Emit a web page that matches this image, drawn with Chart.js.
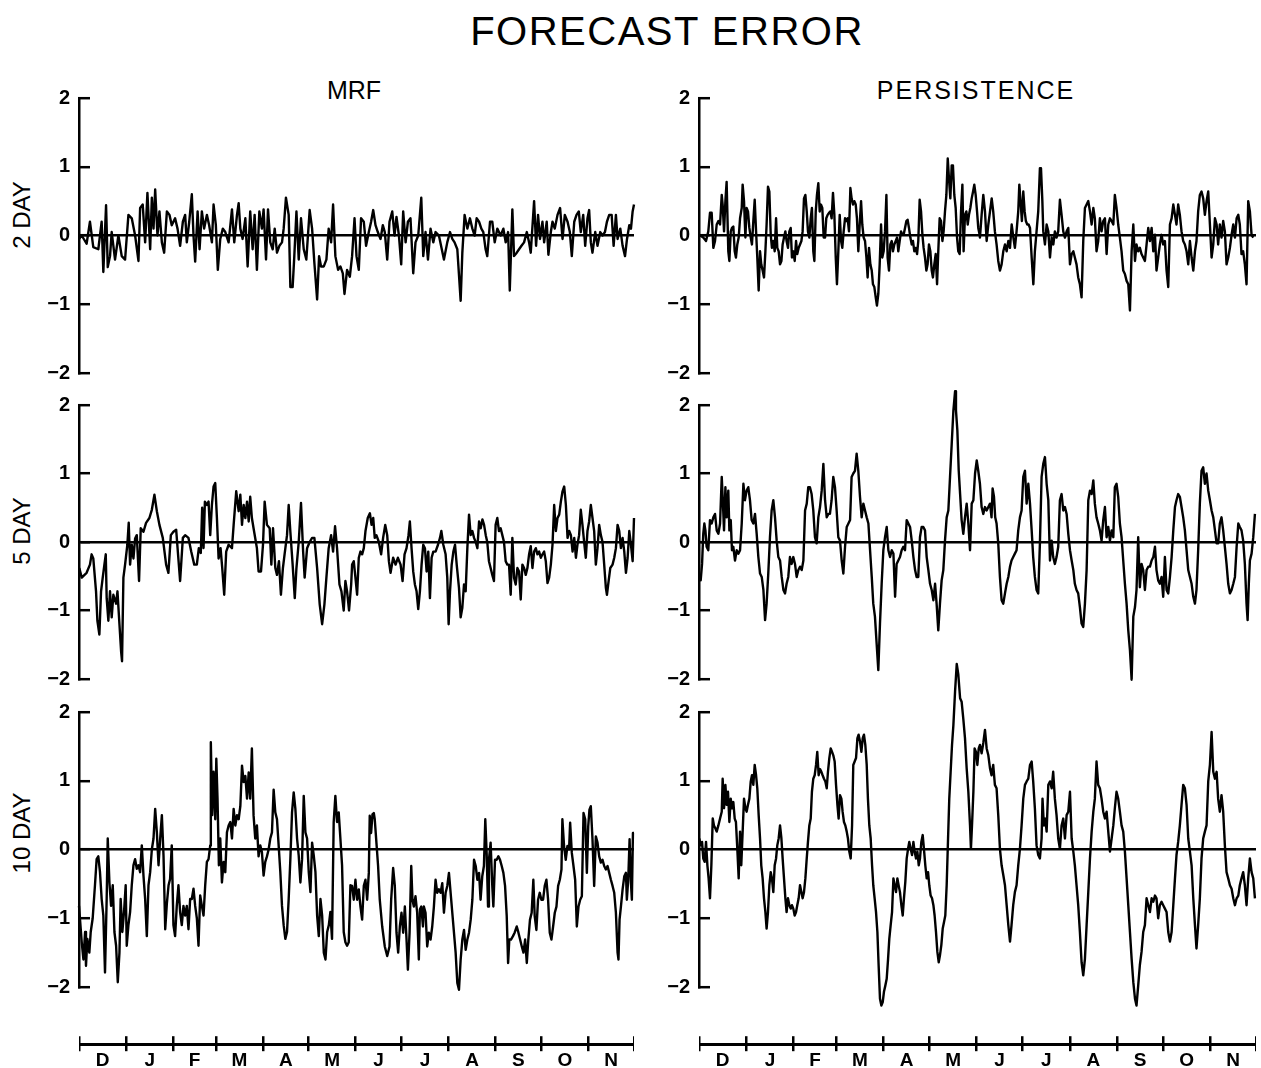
<!DOCTYPE html>
<html><head><meta charset="utf-8">
<script src="https://cdn.jsdelivr.net/npm/chart.js@4.4.1/dist/chart.umd.min.js"></script>
<style>
html,body{margin:0;padding:0;background:#fff;}
#stage{position:relative;width:1261px;height:1068px;overflow:hidden;background:#fff;font-family:'Liberation Sans',Arial,sans-serif;color:#000;}
.t{position:absolute;white-space:nowrap;line-height:1;}
canvas{position:absolute;}
</style></head><body><div id="stage">
<div class="t" style="left:667px;top:11px;font-size:40px;letter-spacing:1.5px;transform:translateX(-50%)">FORECAST ERROR</div>
<div class="t" style="left:354px;top:78px;font-size:25px;transform:translateX(-50%)">MRF</div>
<div class="t" style="left:976px;top:78px;font-size:25px;letter-spacing:2px;transform:translateX(-50%)">PERSISTENCE</div>
<div class="t" style="left:22px;top:215px;font-size:24px;transform:translate(-50%,-50%) rotate(-90deg)">2 DAY</div>
<div class="t" style="left:22px;top:531px;font-size:24px;transform:translate(-50%,-50%) rotate(-90deg)">5 DAY</div>
<div class="t" style="left:22px;top:833px;font-size:24px;transform:translate(-50%,-50%) rotate(-90deg)">10 DAY</div>
</div>
<script>
// ---------- data ----------
const MONTHS = ['D','J','F','M','A','M','J','J','A','S','O','N'];
const MONTH_DAYS = [31,31,28,31,30,31,30,31,31,30,31,30];
const Y_TICKS = [-2,-1,0,1,2];
const DAY_MAX = 365;

// [day since 1 Dec, error]
const MRF_2DAY = [[0,-0.05],[1.8,0],[5,-0.12],[7.2,0.2],[9.4,-0.17],[12.7,-0.2],[14.9,0.2],[16,-0.53],[17.8,0.44],[18.9,-0.46],[20.4,-0.3],[21.5,0.05],[23.7,-0.35],[25.9,0],[28.1,-0.3],[30.3,-0.35],[32.5,0.3],[34.7,0.25],[36.9,0],[39.1,-0.37],[40.2,0.4],[41.9,0.45],[43.5,-0.1],[45,0.62],[46.8,-0.2],[47.9,0.55],[49,0.1],[50.1,0.67],[51.6,0],[52.9,0.35],[54.5,-0.1],[56,-0.25],[57.8,0.35],[59.5,0.3],[61,0.15],[63.2,0.25],[64.8,0.1],[66.5,-0.15],[68.3,0.2],[69.8,0.3],[70.9,-0.1],[72.5,0.2],[74.2,0.6],[75.3,0],[76.4,-0.38],[78,0.35],[79.3,-0.2],[80.8,0.35],[82.3,0.1],[84.1,0.3],[85.6,0.15],[87.4,-0.1],[88.5,0.45],[90,0.15],[91.3,-0.5],[92.9,-0.05],[94.6,0.1],[96.2,0.05],[98.4,-0.1],[100.6,0.38],[102.1,-0.1],[103.9,0.3],[105,0.47],[106.1,0.1],[107.6,-0.05],[109.4,0.25],[110.9,-0.45],[112.6,0.35],[114.2,-0.2],[115.5,0.3],[117,-0.5],[118.6,0.35],[120.3,0.1],[121.4,0.38],[123,-0.35],[124.3,0.38],[125.8,-0.1],[127.4,-0.2],[128.7,0.1],[130.2,-0.25],[131.8,-0.15],[133.5,-0.1],[134.6,0.1],[136.1,0.55],[137.9,0.3],[139,-0.75],[140.5,-0.75],[141.6,-0.3],[143,0.35],[144.5,-0.35],[146,0.25],[147.8,-0.2],[149.5,-0.35],[151.7,0.37],[153.3,0.1],[154.8,-0.4],[156.6,-0.93],[157.9,-0.3],[159.2,-0.45],[161,-0.45],[162.7,-0.35],[164.2,0.1],[165.8,-0.1],[167.1,0.45],[168.6,-0.3],[170.4,-0.5],[171.9,-0.45],[173.5,-0.55],[174.6,-0.85],[176.3,-0.5],[178.1,-0.6],
[179.6,-0.3],[181.2,0.25],[182.5,-0.3],[184,-0.5],[185.5,0.25],[187.3,0.2],[188.8,-0.15],[190.6,0.05],[192.1,0.2],[193.5,0.37],[195,0.15],[196.5,0.05],[198.3,-0.05],[199.8,0.15],[201.1,0.05],[202.7,-0.35],[204.2,0.2],[206,0.35],[207.5,0],[208.8,0.27],[210.4,0],[211.9,-0.42],[213.2,0.35],[214.8,-0.1],[216.3,0.2],[218,0.25],[219.8,-0.55],[221.3,-0.1],[223.1,0],[225.1,0.55],[226.4,-0.3],[227.9,0.05],[229.5,-0.35],[231.2,0.1],[233,-0.1],[234.5,0.05],[236.7,0],[240,-0.35],[242.2,-0.1],[244,0.05],[245.5,-0.05],[247,-0.1],[248.8,-0.2],[251,-0.95],[252.1,-0.25],[253.6,0.3],[255.4,0.1],[257.1,0.25],[258.7,0.1],[260.2,0],[261.5,0.25],[263.1,0.2],[264.6,0.1],[265.9,0.05],[267.4,-0.2],[268.5,-0.3],[270.3,0.2],[271.8,0.2],[273.4,-0.1],[275.1,0.1],[277.3,0],[279.1,0.1],[280.6,-0.1],[282.2,0.05],[283.3,-0.8],[285,0.38],[286.1,-0.3],[287.9,-0.25],[289.4,-0.2],[291,-0.15],[292.7,-0.1],[294.5,0.05],[296,-0.1],[297.1,-0.25],[299.3,0.5],[300.6,-0.15],[301.9,0.3],[303.2,-0.05],[304.8,0.2],[305.9,-0.1],[307.6,0.2],[308.7,-0.28],[310.3,0.05],[311.4,0.2],[312.9,0.1],[314.7,0.3],[316.4,0.4],[318,-0.05],[319.5,0.3],[321.3,0.2],[322.8,0.05],[324.1,-0.3],[325.7,0.2],[327.2,0.3],[328.7,0.35],[330,0.05],[331.6,0.3],[332.9,-0.15],[334.4,0.25],[335.5,0.37],[336.6,-0.1],[337.7,-0.25],[339.5,0.05],[341,-0.15],[342.8,0.05],[344.3,0],[345.9,0.05],[347.2,0.2],[348.7,0.3],[350.3,0.3],[351.6,-0.15],[353.1,0.3],[354.2,-0.05],[356,0.1],[357.5,-0.15],[359.1,-0.3],[360.4,-0.05],[361.9,0.15],[363,0.1],[364.1,0.35],[365,0.45]];

const MRF_5DAY = [[0.2,-0.38],[1.8,-0.52],[5,-0.45],[7.2,-0.33],[8.3,-0.18],[9.4,-0.24],[11.2,-0.72],[12.1,-1.15],[13.4,-1.35],[14.5,-0.72],[15.6,-0.52],[16.7,-0.33],[17.6,-0.18],[18.2,-0.82],[19.3,-1.15],[20.4,-0.72],[21.5,-1.1],[22.6,-0.77],[24.4,-0.9],[25.3,-0.72],[26.6,-1.2],[27.7,-1.6],[28.3,-1.74],[29.2,-0.52],[30.3,-0.33],[31.8,-0.04],[32.7,0.28],[33.6,-0.33],[34.7,-0.04],[35.8,-0.24],[36.9,0.05],[38,0.1],[39.5,-0.57],[40.6,0.2],[42.4,0.15],[44.1,0.28],[46.3,0.35],[47.9,0.47],[49.6,0.69],[51.2,0.45],[52.9,0.25],[55.1,0.06],[57.3,-0.33],[58.8,-0.45],[60.4,0.1],[62.1,0.15],[63.9,0.18],[65,-0.14],[66.5,-0.57],[68.3,0.06],[69.8,0.1],[72,0.06],[73.8,-0.14],[75.8,-0.33],[77.5,-0.33],[78.8,-0.09],[80.1,-0.16],[81,0.5],[81.9,-0.09],[82.8,0.59],[84.1,0.54],[85.2,0.59],[86.3,0.1],[87.4,0.54],[88.5,0.81],[89.6,0.86],[90.7,0.35],[91.8,-0.24],[93.1,-0.09],[94.2,-0.38],[95.5,-0.77],[96.8,-0.14],[98.4,-0.04],[100.6,-0.09],[101.7,0.25],[103.4,0.74],[105,0.45],[106.1,0.69],[107.2,0.25],[108.3,0.54],[109.4,0.35],[110.5,0.59],[111.6,0.3],[112.6,0.66],[113.7,0.35],[114.8,0.2],[117,-0.09],[118.1,-0.43],[119.7,-0.43],[121,-0.04],[122.1,0.59],[123.6,0.25],[125.4,0.2],[126.5,-0.33],[127.6,0.2],[129.1,-0.38],[130.2,-0.48],[131.5,-0.28],[132.8,-0.77],[134.1,-0.38],[135.2,-0.18],[136.8,0.1],[137.9,0.54],[139,0.15],[140.5,-0.33],[141.9,-0.82],[143,-0.38],[144.5,0],[146,0.57],[147.4,-0.14],[148.4,-0.52],[150,-0.09],[151.7,0],[153.3,0.06],[154.8,0.06],[156.6,-0.38],[158.3,-0.91],[159.9,-1.2],[161.4,-0.91],[162.7,-0.52],[164.2,-0.09],[165.8,0.1],[167.1,-0.14],[168.4,0.23],[169.7,-0.09],[171.3,-0.62],[172.6,-0.72],[174.1,-1.0],[175.2,-0.57],[176.3,-0.72],[177.6,-1.0],[179,-0.62],
[179.6,-0.33],[180.7,-0.28],[181.8,-0.52],[182.9,-0.77],[184,-0.23],[185.1,-0.14],[186.2,-0.18],[187.3,-0.09],[188.4,0.16],[189.9,0.35],[191.3,0.42],[192.4,0.25],[193.5,0.35],[194.5,0.06],[195.6,0.1],[197.2,0],[198.7,-0.18],[200,0.06],[201.4,0.25],[202.7,0.1],[203.8,-0.28],[204.9,-0.45],[206.6,-0.23],[208.2,-0.33],[209.7,-0.23],[211.5,-0.33],[212.8,-0.57],[214.1,-0.18],[215.4,-0.09],[216.7,0.1],[217.6,0.3],[218.7,-0.09],[219.8,-0.43],[220.9,-0.62],[222,-0.72],[223.1,-0.98],[224.2,-0.72],[225.3,-0.33],[226.4,-0.04],[227.5,-0.09],[228.6,-0.43],[229.7,-0.14],[230.8,-0.82],[231.9,-0.23],[233,-0.14],[234.5,-0.14],[236.1,-0.04],[237.4,0.06],[238.3,0.16],[239.6,-0.04],[241.1,-0.18],[242.2,-0.52],[243.1,-1.2],[244,-0.72],[245.1,-0.33],[246.2,-0.14],[247.3,-0.04],[248.4,-0.33],[249.9,-0.67],[251,-1.1],[252.1,-0.96],[253.2,-0.62],[254.3,-0.72],[255.4,-0.09],[256.5,0.4],[257.6,0.1],[258.7,0.16],[259.8,0.06],[260.9,0],[262,-0.09],[263.1,0.3],[264.2,0.2],[265.3,0.33],[266.4,0.25],[267.5,0.1],[268.5,0],[269.6,-0.28],[270.7,-0.38],[271.8,-0.48],[272.9,-0.57],[274,0.25],[275.1,0.35],[276.2,0.16],[277.3,0.2],[278.4,0.1],[279.5,0],[280.6,-0.28],[281.7,-0.33],[282.8,-0.33],[283.9,-0.77],[285,0.06],[286.1,-0.52],[287.2,-0.62],[288.3,-0.38],[289.4,-0.43],[290.5,-0.84],[291.6,-0.33],[292.7,-0.38],[293.8,-0.48],[294.9,-0.38],[296,-0.18],[297.1,-0.06],[298.2,-0.38],[299.3,-0.14],[300.4,-0.09],[301.5,-0.18],[302.6,-0.14],[303.7,-0.23],[304.8,-0.18],[305.9,-0.14],[307,-0.28],[308.1,-0.6],[309.2,-0.52],[310.3,-0.33],[311.4,-0.04],[312.5,0.54],[313.6,0.16],[314.7,0.35],[315.8,0.4],[316.9,0.59],[318,0.74],[319.1,0.81],[320.2,0.54],[321.3,0.06],[322.4,0.16],[323.5,0.1],[324.6,-0.14],[325.7,0.06],[326.8,-0.23],[327.8,-0.04],[328.9,0.1],[330,0.47],[331.1,0.25],[332.2,0],[333.3,-0.23],[334.4,0.16],[335.5,0.3],[336.6,0.54],[337.7,0.35],[338.8,0.16],[339.9,-0.33],[341,-0.09],[342.1,0.25],[343.2,0.1],[344.3,0],[345.4,-0.33],[346.5,-0.67],[347.2,-0.77],[348.3,-0.57],[349.4,-0.38],[350.9,-0.33],[352,-0.23],[353.1,-0.09],[354.2,0.25],[355.3,0.16],[356.4,-0.09],[357.5,0.06],[358.6,-0.14],[359.7,-0.45],[360.8,-0.23],[361.9,0.16],[363,-0.04],[364.1,-0.28],[365,0.35]];

const MRF_10DAY = [[0,-0.82],[1.8,-1.35],[2.9,-1.6],[4,-1.2],[4.6,-1.69],[5.5,-1.3],[6.8,-1.5],[7.7,-1.2],[9,-1.0],[10.5,-0.52],[11.6,-0.14],[12.7,-0.1],[13.8,-0.33],[14.9,-0.72],[16,-0.96],[17.1,-1.79],[18.2,-0.72],[18.9,0.16],[20,-0.48],[21.1,-0.82],[22.2,-0.52],[23.3,-1.2],[24.4,-1.4],[25.5,-1.93],[26.6,-1.5],[27.4,-0.72],[28.5,-1.2],[29.6,-0.91],[30.7,-0.52],[31.4,-1.4],[32.5,-1.1],[33.6,-0.91],[34.7,-0.52],[35.8,-0.23],[36.9,-0.14],[38,-0.28],[39.1,-0.23],[40.2,-0.33],[41.3,0.06],[42.4,-0.38],[43.5,-0.72],[44.6,-1.26],[45.7,-0.52],[46.8,-0.33],[47.9,0],[49,0.16],[50.1,0.59],[51.2,0.25],[52.3,-0.23],[53.4,0.16],[54.5,0.5],[55.6,-0.1],[56.7,-1.16],[57.8,-0.78],[58.9,-0.52],[59.9,-0.43],[61,0.06],[62.1,-1.1],[63.2,-1.26],[64.3,-0.82],[65.4,-0.52],[66.5,-0.91],[67.6,-1.1],[68.7,-0.82],[69.8,-0.96],[70.9,-0.82],[72,-1.16],[73.1,-0.72],[74.2,-0.72],[75.3,-0.57],[76.4,-0.82],[77.5,-1.0],[78.6,-1.4],[79.7,-0.67],[80.8,-0.82],[81.9,-0.96],[83,-0.52],[84.1,-0.18],[85.2,-0.14],[86.3,0.06],[86.7,1.56],[87.6,0.5],[88.5,1.13],[89.6,0.44],[90.3,1.32],[91.1,0.74],[92,-0.23],[92.9,0.16],[94,-0.48],[95.1,-0.18],[96.2,-0.33],[97.3,0.25],[98.4,0.35],[99.5,0.4],[100.6,0.16],[101.7,0.59],[102.8,0.35],[103.9,0.5],[105,0.44],[106.1,0.63],[107.2,1.22],[108.3,0.98],[109.4,1.07],[110.5,0.74],[111.6,1.12],[112.6,0.74],[113.7,1.47],[114.8,0.5],[115.9,0.16],[117,0.35],[118.1,-0.1],[119.2,0.06],[120.3,-0.04],[121.4,-0.38],[122.5,-0.18],[123.6,-0.1],[124.7,0],[125.8,0.16],[126.9,0.25],[128,0.87],[129.1,0.54],[130.2,0.44],[131.3,0.06],[132.4,-0.33],[133.5,-0.82],[134.6,-1.1],[135.7,-1.3],[136.8,-1.2],[137.9,-0.72],[139,-0.14],[140.1,0.54],[141.2,0.83],[142.3,0.59],[143.4,0.16],[144.5,-0.09],[145.6,-0.48],[146.7,-0.14],[147.8,0.78],[148.9,0.25],[150,0.16],[151.1,-0.33],[152.2,-0.62],[153.3,0.1],[154.4,-0.09],[155.5,-0.33],[156.6,-0.96],[157.7,-1.26],[158.8,-0.72],[159.9,-0.96],[161,-1.5],[162.1,-1.6],[163.2,-1.2],[164.3,-1.1],[165.3,-0.91],[166.4,-1.3],[167.5,0.4],[168.6,0.78],[169.7,0.4],[170.8,0.54],[171.9,0.16],[173,-0.23],[174.1,-1.2],[175.2,-1.35],[176.3,-1.4],[177.4,-1.35],[178.5,-0.52],
[179.6,-0.53],[180.7,-0.73],[181.8,-0.44],[182.9,-0.73],[184,-0.58],[185.1,-0.83],[186.2,-1.02],[187.3,-0.53],[188.4,-0.44],[189.5,-0.73],[190.6,-0.34],[191.2,0.49],[192.1,0.24],[193,0.51],[193.9,0.53],[194.5,0.44],[195.6,0.1],[196.7,-0.24],[197.8,-0.73],[199.4,-1.12],[201.1,-1.41],[202.7,-1.55],[204.2,-1.41],[205.3,-0.73],[206.6,-0.27],[207.7,-0.53],[208.8,-1.21],[209.9,-1.5],[211,-1.12],[212.1,-0.92],[213.2,-1.21],[214.3,-0.83],[215.4,-1.31],[216.3,-1.75],[217.4,-1.21],[218.5,-0.24],[219.3,-0.73],[220.2,-0.83],[221.3,-0.68],[222.4,-0.92],[223.5,-1.6],[224.2,-0.87],[225.1,-0.83],[226.2,-1.12],[226.8,-0.83],[227.9,-0.92],[229,-1.41],[230.1,-1.21],[231.2,-1.31],[232.3,-1.12],[233.4,-0.83],[234.5,-0.44],[235.6,-0.63],[236.7,-0.58],[237.8,-0.63],[238.9,-0.49],[240,-0.92],[241.1,-0.63],[242.2,-0.53],[243.3,-0.34],[244.4,-0.63],[245.5,-0.92],[246.6,-1.21],[247.7,-1.5],[248.8,-1.94],[249.9,-2.04],[251,-1.6],[252.1,-1.31],[253.2,-1.17],[254.3,-1.46],[255.4,-1.31],[256.5,-1.21],[257.6,-1.02],[258.7,-0.73],[259.8,-0.15],[260.9,-0.24],[262,-0.44],[263.1,-0.34],[264.1,-0.73],[265.2,-0.39],[266.3,-0.24],[267.2,0.44],[268.1,-0.05],[269,-0.83],[269.6,-0.15],[270.7,0.1],[271.8,-0.53],[272.5,-0.83],[273.6,-0.15],[274.7,-0.15],[275.8,-0.1],[276.9,-0.15],[278,-0.24],[279.1,-0.34],[280.2,-0.53],[281.3,-0.97],[282.2,-1.65],[283,-1.31],[284.1,-1.31],[285.4,-1.26],[286.5,-1.21],[287.9,-1.12],[289,-1.21],[290.1,-1.31],[291.2,-1.41],[292.3,-1.5],[293.4,-1.31],[294.5,-1.65],[295.5,-1.31],[296.6,-1.02],[297.7,-0.92],[298.8,-0.44],[299.7,-0.97],[300.8,-1.17],[301.9,-0.73],[303,-0.63],[304.1,-0.73],[305.2,-0.73],[306.3,-0.53],[307.4,-0.44],[308.5,-0.73],[309.6,-1.21],[310.7,-1.31],[311.8,-1.12],[312.9,-0.92],[314,-0.83],[315.1,-0.53],[316.2,-0.44],[317.3,-0.29],[317.9,0.44],[319,0.05],[320.1,-0.15],[321.2,0.05],[322.3,0],[323,0.39],[324.1,-0.05],[325.2,-0.24],[326.3,-0.44],[327.4,-1.12],[328.5,-0.83],[329.6,-0.73],[330.7,-0.68],[331.8,0.53],[332.9,0.44],[334,-0.34],[334.9,0.34],[335.7,0.58],[336.6,0.63],[337.7,0.15],[338.8,-0.53],[339.9,0.19],[341,0.1],[342.1,-0.1],[343.2,-0.19],[344.3,-0.15],[345.4,-0.24],[346.5,-0.29],[347.6,-0.24],[348.7,-0.34],[349.8,-0.44],[350.9,-0.53],[352,-0.63],[353.1,-0.92],[354.2,-1.5],[354.8,-1.6],[355.5,-1.02],[356.4,-0.83],[357.5,-0.58],[358.6,-0.39],[359.7,-0.34],[360.3,-0.73],[361.2,-0.44],[362.1,0.15],[363,-0.49],[363.6,-0.73],[364.3,0.24],[365,0.24]];

const PERS_2DAY = [[0.7,0],[2.8,-0.03],[4.6,-0.08],[6.1,0.06],[7.2,0.33],[8.3,0.33],[9.4,-0.18],[10.5,-0.08],[11.6,0.16],[12.7,0.21],[13.8,0.16],[14.9,0.59],[15.5,0.45],[16.4,0.06],[17.3,0.5],[18.1,0.78],[19.2,-0.23],[19.9,-0.37],[20.8,0.06],[21.6,0.11],[22.5,0.13],[23.4,-0.23],[24.2,-0.32],[25.1,-0.13],[26,-0.03],[26.9,0.25],[28,0.4],[28.6,0.74],[29.5,0.5],[30.4,-0.03],[31.2,0.4],[32.1,0.35],[33,0.11],[33.9,-0.03],[34.7,-0.13],[35.6,0.21],[36.5,0.52],[37.4,0.06],[38.2,-0.32],[39.1,-0.8],[40,-0.23],[40.8,-0.42],[41.7,-0.51],[42.6,-0.61],[43.5,-0.23],[44.3,0.16],[45.2,0.71],[46.1,0.64],[47,0.01],[47.8,-0.18],[48.7,-0.08],[49.6,-0.23],[50.5,0.25],[51.3,-0.18],[52.2,-0.23],[53.1,-0.42],[54,-0.37],[54.8,-0.13],[55.7,-0.03],[56.6,0.06],[57.4,-0.08],[58.3,-0.18],[59.2,0.06],[60.1,0.11],[60.9,-0.32],[61.8,-0.23],[62.7,-0.37],[63.6,-0.08],[64.4,-0.27],[65.3,-0.18],[66.2,-0.13],[67.1,-0.08],[67.9,0.06],[68.8,0.54],[69.7,0.59],[70.6,0.35],[71.4,0.06],[72.3,-0.03],[73.2,0.25],[74,0.4],[74.9,-0.23],[75.6,-0.37],[76.5,0.35],[77.3,0.59],[78.2,0.76],[79.1,0.35],[79.9,0.45],[80.8,0.4],[81.7,-0.03],[82.6,-0.03],[83.4,0.25],[84.3,0.3],[85.2,0.33],[86.1,0.35],[86.9,0.25],[87.8,0.62],[88.7,0.3],[89.6,-0.32],[90.4,-0.71],[91.3,-0.23],[92.2,0.3],[93.1,-0.08],[93.9,-0.18],[94.8,0.06],[95.7,0.25],[96.5,0.21],[97.4,0.25],[98.3,0.06],[99.2,0.69],[100,0.54],[100.9,0.45],[101.8,0.5],[102.7,0.45],[103.5,0.25],[104.4,-0.23],[105.3,0.16],[106.2,0.5],[107,0.16],[107.9,-0.03],[108.8,-0.08],[109.7,-0.32],[110.5,-0.61],[111.4,-0.18],[112.3,-0.42],[113.2,-0.51],[114,-0.71],[114.9,-0.75],[115.8,-0.9],[116.6,-1.02],[117.5,-0.85],[118.4,-0.42],[119.3,0.16],[120.1,-0.32],[121,-0.23],[121.9,0.06],[122.8,0.59],[123.6,-0.32],[124.5,-0.51],[125.4,-0.13],[126.3,-0.08],[127.1,-0.23],[128,-0.13],[128.9,-0.08],[129.8,-0.03],[130.6,-0.23],[131.5,-0.08],[132.4,0.06],[133.2,0.01],[134.1,0.01],[135,0.11],[135.9,0.21],[136.7,0.23],[137.6,0.11],[138.5,-0.03],[139.4,-0.13],[140.2,-0.08],[141.1,-0.23],[142,-0.18],[142.9,-0.27],[143.7,-0.08],[144.6,0.52],[145.5,0.35],[146.4,0.01],[147.2,-0.18],[148.1,-0.32],[149,-0.51],[149.8,-0.42],[150.7,-0.13],[151.6,-0.23],[152.5,-0.51],[153.3,-0.61],[154.2,-0.42],[155.1,-0.27],[156,-0.71],[156.8,-0.23],[157.7,0.25],[158.6,0.21],[159.5,-0.08],[160.3,0.06],[161.2,0.35],[162.1,0.59],[163,1.12],[163.8,0.83],[164.7,0.54],[165.6,1.02],[166.4,1.02],[167.3,0.59],[168.2,0.4],[169.1,-0.03],[169.9,-0.23],[170.8,-0.27],[171.7,0.35],[172.6,0.74],[173.4,-0.23],[174.3,0.3],[175.2,0.35],[176.1,0.16],[176.9,0.3],[177.8,0.4],[178.7,0.54],[179.6,0.64],[180.4,0.74],[181.3,0.59],[182.2,0.35],[183,0.11],[183.9,0.01],
[184.1,-0.03],[185.2,0.3],[186.3,0.59],[187.4,0.35],[188.5,-0.08],[189.6,0.16],[190.7,0.35],[191.8,0.54],[192.8,0.35],[193.9,0.06],[195,-0.13],[196.1,-0.37],[197.2,-0.51],[198.3,-0.42],[199.4,-0.23],[200.5,-0.13],[201.6,-0.23],[202.7,-0.08],[203.8,-0.18],[204.9,0.16],[206,-0.03],[207,-0.18],[208.1,0.06],[209.2,0.35],[209.9,0.74],[210.7,0.5],[211.6,0.21],[212.5,0.64],[213.4,0.35],[214.2,0.21],[215.1,0.16],[216,0.16],[216.9,0.11],[218,-0.32],[219.1,-0.71],[220.1,-0.23],[221.2,0.06],[222.3,0.35],[223.4,0.98],[224.1,0.98],[225,0.5],[225.6,0.06],[226.7,-0.13],[227.8,0.16],[228.9,0.06],[230,-0.32],[231.1,-0.03],[232.2,-0.13],[233.2,0.06],[234.3,-0.03],[235.4,0.06],[236.5,0.52],[237.6,0.3],[238.7,0.06],[239.8,-0.03],[240.9,0.06],[242,0.11],[243.1,-0.42],[244.2,-0.27],[245.3,-0.23],[246.3,-0.32],[247.4,-0.42],[248.5,-0.61],[249.6,-0.71],[250.7,-0.9],[251.8,-0.08],[252.9,0.4],[254,0.45],[255.1,0.5],[256.2,0.35],[257.3,0.16],[258.4,0.4],[259.4,0.25],[260.5,-0.23],[261.6,-0.08],[262.7,0.25],[263.8,0.06],[264.9,0.21],[266,0.25],[267.1,-0.27],[268.2,0.16],[269.3,0.25],[270.4,0.21],[271.5,0.16],[272.5,0.59],[273.6,0.4],[274.7,0.16],[275.8,-0.03],[276.9,-0.23],[278,-0.51],[279.1,-0.56],[280.2,-0.66],[281.3,-0.71],[282.4,-1.09],[283.5,-0.23],[284.6,0.16],[285.7,-0.37],[286.7,-0.13],[287.8,-0.23],[288.9,-0.18],[290,-0.27],[291.1,-0.32],[292.2,-0.37],[293.3,-0.13],[294.4,0.11],[295.5,-0.08],[296.6,0.11],[297.7,-0.23],[298.8,0.01],[299.8,-0.51],[300.9,-0.32],[302,-0.13],[303.1,0.01],[304.2,-0.13],[305.3,-0.08],[306.4,-0.51],[307.5,-0.75],[308.6,0.16],[309.7,0.25],[310.8,0.45],[311.9,0.3],[312.9,0.16],[314,0.45],[315.1,0.3],[316.2,0.06],[317.3,-0.08],[318.4,-0.13],[319.5,-0.23],[320.6,-0.42],[321.7,-0.08],[322.8,-0.32],[323.9,-0.51],[325,-0.23],[326,-0.08],[327.1,0.35],[328.2,0.59],[329.3,0.64],[330.4,0.54],[331.5,0.3],[332.6,0.5],[333.7,0.64],[334.8,0.16],[335.9,-0.32],[337,-0.13],[338.1,0.25],[339.2,0.16],[340.2,-0.13],[341.3,0.16],[342.4,-0.03],[343.5,0.21],[344.6,0.06],[345.7,-0.42],[346.8,-0.32],[347.9,-0.18],[349,0.01],[350.1,0.16],[351.2,-0.03],[352.3,0.25],[353.4,0.3],[354.4,0.16],[355.5,-0.27],[356.6,-0.23],[357.7,-0.42],[358.8,-0.71],[359.9,0.5],[361,0.35],[362.1,0.01],[363.2,-0.03]];

const PERS_5DAY = [[0.2,-0.51],[1.1,-0.56],[2,-0.32],[2.8,0.12],[3.5,0.27],[4.2,0.17],[5,-0.07],[6.1,-0.12],[7.2,0.32],[8.3,0.27],[9.4,0.36],[10.5,0.41],[11.6,0.17],[12.7,0.12],[13.8,0.27],[14.9,0.95],[15.5,0.66],[16.4,0.17],[17.3,0.8],[18.1,0.36],[19.2,0.75],[19.9,0.17],[20.8,0.32],[21.6,-0.12],[22.5,-0.07],[23.6,-0.27],[24.7,-0.12],[25.8,-0.17],[26.9,-0.12],[28,0.27],[29.1,0.85],[30.1,0.61],[31.2,0.75],[32.3,0.8],[33.4,0.61],[34.5,0.32],[35.6,0.27],[36.7,0.41],[37.8,0.12],[38.9,-0.22],[40,-0.46],[41.1,-0.51],[42.2,-0.7],[43.3,-1.14],[44.3,-0.9],[45.4,-0.46],[46.5,0.07],[47.6,0.46],[48.7,0.61],[49.8,0.36],[50.9,0.02],[52,-0.22],[53.1,-0.27],[54.2,-0.51],[55.3,-0.7],[56.4,-0.75],[57.4,-0.61],[58.5,-0.51],[59.6,-0.22],[60.7,-0.32],[61.8,-0.22],[62.9,-0.32],[64,-0.51],[65.1,-0.41],[66.2,-0.36],[67.3,-0.41],[68.4,-0.27],[69.5,0.46],[70.6,0.56],[71.6,0.8],[72.7,0.8],[73.8,0.7],[74.9,0.46],[76,0.07],[77.1,-0.02],[78.2,0.36],[79.3,0.51],[80.4,0.75],[81.5,1.14],[82.6,0.61],[83.7,0.36],[84.8,0.41],[85.8,0.41],[86.9,0.61],[88,0.95],[89.1,0.8],[90.2,0.46],[91.3,0.07],[92.4,0.02],[93.5,-0.27],[94.6,-0.46],[95.7,-0.07],[96.8,0.22],[97.9,0.27],[99,0.32],[100,0.95],[101.1,1.0],[102.2,1.04],[103.3,1.29],[104.4,1.04],[105.5,0.66],[106.6,0.36],[107.7,0.56],[108.8,0.46],[109.9,0.36],[111,0.27],[112.1,-0.12],[113.2,-0.51],[114.2,-0.9],[115.3,-1.09],[116.4,-1.48],[117.5,-1.87],[118.6,-1.19],[119.7,-0.61],[120.8,-0.12],[121.9,0.07],[123,0.22],[124.1,-0.12],[125.2,-0.22],[126.3,-0.12],[127.4,-0.17],[128.5,-0.8],[129.5,-0.32],[130.6,-0.27],[131.7,-0.22],[132.8,-0.12],[133.9,-0.07],[135,-0.12],[136.1,0.32],[137.2,0.27],[138.3,0.22],[139.4,0.02],[140.5,-0.22],[141.6,-0.41],[142.6,-0.51],[143.7,-0.51],[144.8,0.07],[145.9,0.22],[147,0.22],[148.1,0.17],[149.2,-0.22],[150.3,-0.41],[151.4,-0.61],[152.5,-0.7],[153.6,-0.85],[154.7,-0.61],[155.7,-0.9],[156.8,-1.29],[157.9,-0.9],[159,-0.56],[160.1,-0.41],[161.2,0.02],[162.3,0.36],[163.4,0.46],[164.5,0.95],[165.6,1.43],[166.7,1.92],[167.8,2.2],[168.4,1.92],[169.3,1.63],[170.2,1.04],[171.1,0.7],[172.1,0.32],[173.2,0.12],[174.3,0.36],[175.4,0.56],[176.5,0.27],[177.6,-0.12],[178.7,0.56],[179.8,0.61],[180.9,1.0],[182,1.19],[183,1.04],
[184.1,0.85],[185.2,0.51],[186.3,0.41],[187.4,0.51],[188.5,0.46],[189.6,0.51],[190.7,0.56],[191.7,0.36],[192.4,0.78],[193.3,0.66],[194.1,0.36],[195,0.27],[196.1,-0.02],[197.2,-0.51],[198.3,-0.85],[199.4,-0.9],[200.5,-0.75],[201.6,-0.61],[202.7,-0.51],[203.8,-0.36],[204.8,-0.27],[205.9,-0.22],[207,-0.17],[208.1,-0.12],[209.2,0.17],[210.3,0.36],[211.4,0.46],[212.5,0.95],[213.6,1.04],[214.7,0.56],[215.8,0.85],[216.9,0.56],[218,0.17],[219,-0.22],[220.1,-0.51],[221.2,-0.7],[222.3,-0.75],[223.4,-0.02],[224.5,0.95],[225.6,1.14],[226.7,1.24],[227.8,0.85],[228.9,0.61],[230,-0.27],[231.1,0.02],[232.1,-0.22],[233.2,-0.32],[234.3,-0.22],[235.4,-0.07],[236.5,0.61],[237.6,0.7],[238.7,0.46],[239.8,0.51],[240.9,0.41],[242,0.12],[243.1,-0.12],[244.2,-0.27],[245.3,-0.41],[246.3,-0.61],[247.4,-0.7],[248.5,-0.75],[249.6,-0.95],[250.7,-1.19],[251.8,-1.24],[252.9,-0.9],[254,-0.41],[255.1,0.61],[256.2,0.75],[257.3,0.7],[258.4,0.9],[259.4,0.56],[260.5,0.36],[261.6,0.27],[262.7,0.17],[263.8,0.02],[264.9,0.32],[266,0.51],[267.1,0.07],[268.2,0.22],[269.3,0.02],[270.4,0.17],[271.5,0.07],[272.5,0.8],[273.6,0.85],[274.7,0.66],[275.8,0.27],[276.9,0.07],[278,-0.27],[279.1,-0.61],[280.2,-0.9],[281.3,-1.29],[282.4,-1.58],[283.5,-2.01],[284.6,-1.09],[285.7,-0.95],[286.7,-0.7],[287.8,0.07],[288.9,-0.66],[290,-0.32],[291.1,-0.41],[292.2,-0.7],[293.3,-0.41],[294.4,-0.36],[295.5,-0.36],[296.6,-0.27],[297.7,-0.22],[298.8,-0.07],[299.8,-0.41],[300.9,-0.56],[302,-0.61],[303.1,-0.51],[304.2,-0.8],[305.3,-0.22],[306.4,-0.7],[307.5,-0.75],[308.6,-0.51],[309.7,-0.22],[310.8,0.17],[311.9,0.51],[312.9,0.61],[314,0.7],[315.1,0.66],[316.2,0.51],[317.3,0.36],[318.4,0.17],[319.5,-0.12],[320.6,-0.41],[321.7,-0.51],[322.8,-0.61],[323.9,-0.8],[325,-0.9],[326,-0.7],[327.1,-0.12],[328.2,0.56],[329.3,1.04],[330.4,1.09],[331.5,0.85],[332.6,1.0],[333.7,0.75],[334.8,0.61],[335.9,0.46],[337,0.36],[338.1,0.17],[339.2,-0.02],[340.2,-0.02],[341.3,0.27],[342.4,0.36],[343.5,0.17],[344.6,-0.07],[345.7,-0.32],[346.8,-0.61],[347.9,-0.75],[349,-0.7],[350.1,-0.61],[351.2,-0.51],[352.3,-0.07],[353.4,0.27],[354.4,0.22],[355.5,0.17],[356.6,0.02],[357.7,-0.32],[358.8,-0.9],[359.5,-1.14],[360.3,-0.61],[361,-0.27],[362.1,-0.17],[363.2,0.07],[364.3,0.41]];

const PERS_10DAY = [[0.2,0.16],[1.1,0.06],[2,0.11],[2.8,-0.13],[3.7,-0.18],[4.6,0.11],[5.5,-0.23],[6.3,-0.42],[7.2,-0.71],[8.1,-0.23],[9,0.45],[9.8,0.35],[10.7,0.31],[11.6,0.26],[12.7,0.35],[13.8,0.45],[14.9,0.55],[15.5,1.03],[16.4,0.6],[17.3,0.94],[18.1,0.65],[19,0.84],[19.9,0.4],[20.8,0.74],[21.6,0.6],[22.5,0.69],[23.4,0.45],[24.2,0.4],[25.1,0.01],[26,-0.42],[26.9,0.26],[27.7,-0.23],[28.6,0.26],[29.5,0.74],[30.4,0.6],[31.2,0.55],[32.1,0.65],[33,0.74],[33.9,0.99],[34.7,1.08],[35.6,0.94],[36.5,1.23],[37.4,1.08],[38.2,0.89],[39.1,0.5],[40,0.16],[40.8,-0.23],[41.7,-0.42],[42.6,-0.71],[43.5,-0.91],[44.3,-1.15],[45.2,-0.91],[46.1,-0.52],[47,-0.33],[47.8,-0.42],[48.7,-0.62],[49.6,-0.23],[50.5,-0.13],[51.3,0.06],[52.2,0.16],[53.1,0.35],[54,0.16],[54.8,-0.13],[55.7,-0.42],[56.6,-0.71],[57.4,-0.91],[58.3,-0.71],[59.2,-0.81],[60.1,-0.86],[60.9,-0.81],[61.8,-0.86],[62.7,-0.96],[63.6,-0.91],[64.4,-0.81],[65.3,-0.71],[66.2,-0.52],[67.1,-0.62],[67.9,-0.71],[68.8,-0.62],[69.7,-0.42],[70.6,-0.13],[71.4,0.11],[72.3,0.35],[73.2,0.45],[74,0.84],[74.9,1.03],[75.8,1.08],[76.7,1.23],[77.5,1.42],[78.4,1.08],[79.3,1.17],[80.2,1.13],[81,1.08],[81.9,1.03],[82.8,0.99],[83.7,0.89],[84.5,1.13],[85.4,1.33],[86.3,1.47],[87.2,1.42],[88,1.37],[88.9,1.28],[89.8,0.94],[90.7,0.65],[91.5,0.45],[92.4,0.79],[93.3,0.74],[94.1,0.55],[95,0.4],[95.9,0.35],[96.8,0.26],[97.6,0.16],[98.5,-0.03],[99.4,-0.13],[100.3,0.35],[101.1,1.23],[102,1.28],[102.9,1.33],[103.8,1.62],[104.6,1.67],[105.5,1.57],[106.4,1.42],[107.3,1.62],[108.1,1.67],[109,1.52],[109.9,1.23],[110.7,0.74],[111.6,0.35],[112.5,0.16],[113.4,-0.23],[114.2,-0.52],[115.1,-0.71],[116,-0.91],[116.9,-1.2],[117.7,-1.68],[118.6,-2.17],[119.5,-2.27],[120.4,-2.22],[121.2,-2.07],[122.1,-1.98],[123,-1.88],[123.9,-1.59],[124.7,-1.3],[125.6,-1.1],[126.5,-0.91],[127.4,-0.42],[128.2,-0.52],[129.1,-0.62],[130,-0.42],[130.8,-0.52],[131.7,-0.62],[132.6,-0.81],[133.5,-0.96],[134.3,-0.71],[135.2,-0.47],[136.1,-0.13],[137,0.01],[137.8,0.11],[138.7,0.01],[139.6,-0.08],[140.5,0.11],[141.3,-0.03],[142.2,-0.13],[143.1,-0.03],[144,-0.23],[144.8,-0.13],[145.7,0.11],[146.6,0.21],[147.4,0.01],[148.3,-0.23],[149.2,-0.42],[150.1,-0.33],[150.9,-0.52],[151.8,-0.67],[152.7,-0.71],[153.6,-0.81],[154.4,-0.96],[155.3,-1.2],[156.2,-1.49],[157.1,-1.64],[157.9,-1.54],[158.8,-1.39],[159.7,-1.15],[160.6,-1.05],[161.4,-0.96],[162.3,-0.52],[163.2,0.16],[164,0.74],[164.9,1.13],[165.8,1.52],[166.7,1.81],[167.8,2.3],[168.9,2.7],[169.9,2.55],[171.1,2.2],[172.1,2.15],[173.2,1.9],[174.3,1.62],[175.4,1.18],[176.5,0.84],[177.6,0.35],[178.2,0.01],[178.9,0.35],[179.8,0.84],[180.6,1.47],[181.5,1.42],[182.4,1.23],[183.3,1.47],
[184.1,1.52],[185.2,1.4],[186.3,1.55],[187.4,1.74],[188.5,1.47],[189.6,1.37],[190.7,1.18],[191.7,1.08],[192.8,1.23],[193.9,0.94],[195,0.89],[196.1,0.5],[197.2,0.01],[198.3,-0.23],[199.4,-0.37],[200.5,-0.52],[201.6,-0.81],[202.7,-1.1],[203.8,-1.34],[204.8,-1.1],[205.9,-0.81],[207,-0.62],[208.1,-0.52],[209.2,-0.23],[210.3,0.01],[211.4,0.35],[212.5,0.74],[213.6,0.94],[214.7,0.99],[215.8,1.03],[216.9,1.23],[218,1.28],[219,0.99],[220.1,0.6],[221.2,0.06],[222.3,-0.08],[223.4,-0.13],[224.5,0.16],[225.1,0.74],[226,0.35],[226.9,0.45],[227.8,0.26],[228.9,0.94],[230,0.99],[231.1,0.89],[232.1,1.13],[233.2,0.74],[234.3,0.5],[235.4,0.16],[236.5,0.01],[237.6,0.35],[238.7,0.45],[239.8,0.16],[240.9,0.5],[242,0.55],[243.1,0.84],[244.2,0.16],[245.3,-0.03],[246.3,-0.23],[247.4,-0.52],[248.5,-0.81],[249.6,-1.2],[250.7,-1.64],[251.8,-1.83],[252.9,-1.59],[254,-1.1],[255.1,-0.62],[256.2,-0.13],[257.3,0.26],[258.4,0.55],[259.4,0.74],[260.5,1.28],[261.6,0.94],[262.7,0.89],[263.8,0.74],[264.9,0.55],[266,0.45],[267.1,0.55],[268.2,0.26],[269.3,-0.03],[270.4,0.16],[271.5,0.35],[272.5,0.6],[273.6,0.84],[274.7,0.74],[275.8,0.55],[276.9,0.35],[278,0.26],[279.1,-0.03],[280.2,-0.42],[281.3,-0.81],[282.4,-1.2],[283.5,-1.59],[284.6,-1.93],[285.7,-2.17],[286.7,-2.27],[287.8,-1.98],[288.9,-1.68],[290,-1.49],[291.1,-1.2],[292.2,-1.1],[293.3,-0.71],[294.4,-0.81],[295.5,-0.91],[296.6,-0.71],[297.7,-0.76],[298.8,-0.67],[299.8,-0.71],[300.9,-1.0],[302,-0.81],[303.1,-0.76],[304.2,-0.81],[305.3,-0.86],[306.4,-0.91],[307.5,-1.2],[308.6,-1.34],[309.7,-1.2],[310.8,-0.81],[311.9,-0.42],[312.9,-0.08],[314,0.11],[315.1,0.35],[316.2,0.65],[317.3,0.94],[318.4,0.89],[319.5,0.65],[320.6,0.16],[321.7,-0.03],[322.8,-0.23],[323.9,-0.71],[325,-1.1],[326,-1.44],[327.1,-1.1],[328.2,-0.71],[329.3,-0.13],[330.4,0.16],[331.5,0.26],[332.6,0.35],[333.7,0.99],[334.8,1.23],[335.9,1.71],[337,1.13],[338.1,1.03],[339.2,1.13],[340.2,0.74],[341.3,0.55],[342.4,0.79],[343.5,0.55],[344.6,0.06],[345.7,-0.33],[346.8,-0.42],[347.9,-0.52],[349,-0.57],[350.1,-0.71],[351.2,-0.81],[352.3,-0.71],[353.4,-0.67],[354.4,-0.52],[355.5,-0.42],[356.6,-0.33],[357.7,-0.52],[358.8,-0.81],[359.9,-0.42],[361,-0.13],[362.1,-0.33],[363.2,-0.42],[364.3,-0.71]];

// ---------- derived axis ticks ----------
const BOUNDARIES = [0];
MONTH_DAYS.forEach(d => BOUNDARIES.push(BOUNDARIES[BOUNDARIES.length - 1] + d));
const LABEL_AT = new Map();
MONTHS.forEach((m, i) => LABEL_AT.set(BOUNDARIES[i] + MONTH_DAYS[i] / 2, m));
const AXIS_TICKS = BOUNDARIES.concat([...LABEL_AT.keys()]).sort((a, b) => a - b);
const isBoundary = v => BOUNDARIES.includes(v);

const FONT = 'Liberation Sans';
const stage = document.getElementById('stage');

function panelConfig(series) {
  return {
    type: 'line',
    data: { datasets: [{
      data: series.map(p => ({ x: p[0], y: p[1] })),
      borderColor: '#000', borderWidth: 2.4, pointRadius: 0, tension: 0,
      clip: false, borderJoinStyle: 'round', fill: false
    }] },
    options: {
      responsive: false, animation: false, events: [],
      layout: { padding: { top: 60, bottom: 30, left: 0, right: 4 } },
      plugins: { legend: { display: false }, tooltip: { enabled: false } },
      scales: {
        x: { type: 'linear', display: false, min: 0, max: DAY_MAX },
        y: {
          type: 'linear', min: -2, max: 2,
          afterBuildTicks: s => { s.ticks = Y_TICKS.map(v => ({ value: v })); },
          afterFit: s => { s.width = 48; },
          ticks: {
            font: { family: FONT, size: 20, weight: 'bold' }, color: '#000', padding: 20,
            callback: v => v < 0 ? '\u2212' + Math.abs(v) : String(v)
          },
          grid: {
            drawTicks: true, tickLength: -11, tickWidth: 2.5, tickColor: '#000', lineWidth: 2.4,
            color: c => (c.tick && c.tick.value === 0) ? '#000' : 'rgba(0,0,0,0)'
          },
          border: { display: true, color: '#000', width: 2.5 }
        }
      }
    }
  };
}

function axisConfig() {
  const col = c => (c.tick && isBoundary(c.tick.value)) ? '#000' : 'rgba(0,0,0,0)';
  return {
    type: 'line',
    data: { datasets: [{ data: [] }] },
    options: {
      responsive: false, animation: false, events: [],
      layout: { padding: 0 },
      plugins: {
        legend: { display: false }, tooltip: { enabled: false },
        // empty spacer so the axis box is not squeezed by the layout's half-height limit
        title: { display: true, text: '', padding: { top: 80, bottom: 0 }, font: { size: 1 } }
      },
      scales: {
        x: {
          type: 'linear', position: 'bottom', min: 0, max: DAY_MAX,
          afterBuildTicks: s => { s.ticks = AXIS_TICKS.map(v => ({ value: v })); },
          ticks: {
            autoSkip: false, maxRotation: 0, minRotation: 0, padding: -2,
            font: { family: FONT, size: 19, weight: 'bold' }, color: '#000',
            callback: v => LABEL_AT.has(v) ? LABEL_AT.get(v) : ''
          },
          grid: { drawOnChartArea: true, drawTicks: true, tickLength: 7, lineWidth: 2.5, tickWidth: 2.5, color: col, tickColor: col },
          border: { display: true, color: '#000', width: 3 }
        },
        y: { display: false, min: 0, max: 1 }
      }
    }
  };
}

function place(makeConfig, box) {
  const probe = document.createElement('canvas');
  probe.width = box.width + 300; probe.height = box.height + 300;
  probe.style.cssText = 'left:0;top:0;visibility:hidden;';
  stage.appendChild(probe);
  const pc = new Chart(probe, makeConfig());
  const ca = pc.chartArea;
  const L = ca.left, T = ca.top, R = probe.width - ca.right, B = probe.height - ca.bottom;
  pc.destroy(); probe.remove();
  const cv = document.createElement('canvas');
  cv.width = Math.round(box.width + L + R); cv.height = Math.round(box.height + T + B);
  cv.style.cssText = `left:${box.left - L}px;top:${box.top - T}px;width:${cv.width}px;height:${cv.height}px;`;
  stage.appendChild(cv);
  return new Chart(cv, makeConfig());
}

const COLS = [{ left: 79, width: 555 }, { left: 699, width: 557 }];
const ROWS = [{ top: 97.5, height: 275 }, { top: 405, height: 274 }, { top: 712, height: 275 }];
const GRID = [[MRF_2DAY, PERS_2DAY], [MRF_5DAY, PERS_5DAY], [MRF_10DAY, PERS_10DAY]];

GRID.forEach((row, r) => row.forEach((series, c) => {
  place(() => panelConfig(series), { left: COLS[c].left, top: ROWS[r].top, width: COLS[c].width, height: ROWS[r].height });
}));
COLS.forEach(col => place(axisConfig, { left: col.left, top: 1036, width: col.width, height: 8 }));
</script>
</body></html>
